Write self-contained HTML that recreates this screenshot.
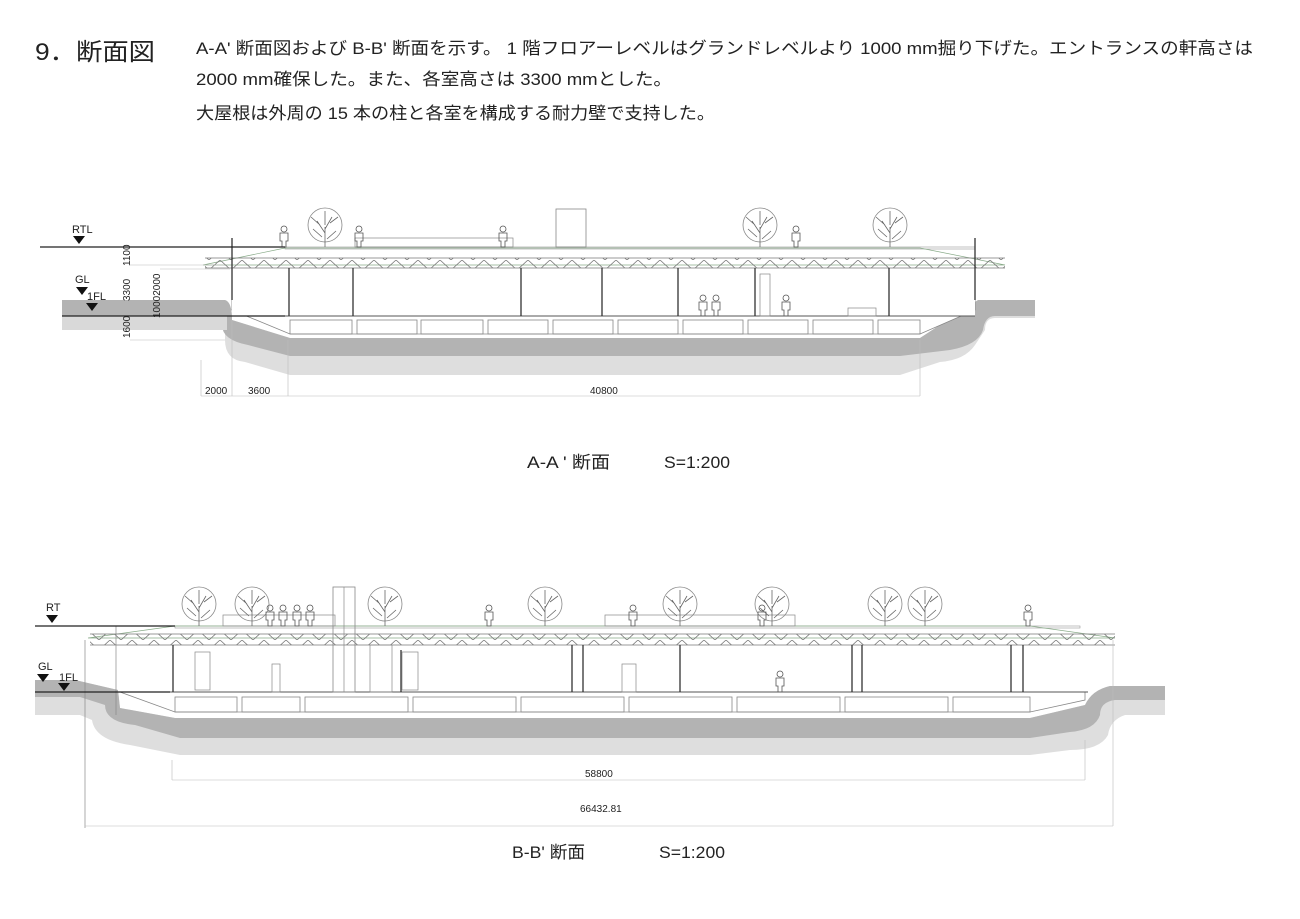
<!DOCTYPE html>
<html><head><meta charset="utf-8"><style>
body{margin:0;background:#fff;width:1300px;height:919px;overflow:hidden;font-family:"Liberation Sans","Noto Sans CJK JP",sans-serif}
svg{position:absolute;left:0;top:0}
</style></head><body>
<svg width="1300" height="919" viewBox="0 0 1300 919" xmlns="http://www.w3.org/2000/svg" font-family="Liberation Sans, Noto Sans CJK JP, sans-serif">
<defs>
<pattern id="zz" x="0" y="0" width="22" height="10" patternUnits="userSpaceOnUse">
<polyline points="0,0 11,10 22,0" fill="none" stroke="#777" stroke-width="0.8"/>
</pattern>
<g id="tree">
<circle cx="0" cy="-22" r="17" fill="none" stroke="#888" stroke-width="0.8"/>
<path d="M0,0 V-20 M0,-14 L-8,-26 M0,-18 L7,-30 M-3,-10 L-12,-18 M2,-8 L11,-16 M0,-22 L0,-36 M-5,-22 L-14,-30 M5,-24 L13,-30" stroke="#666" stroke-width="0.8" fill="none"/>
</g>
<g id="man">
<circle cx="0" cy="-18" r="3" fill="none" stroke="#555" stroke-width="0.8"/>
<path d="M-4,-14 h8 v8 h-2 v6 h-4 v-6 h-2 z" fill="none" stroke="#555" stroke-width="0.8"/>
</g>
</defs>

<text x="35" y="60" font-size="24" fill="#222" textLength="120" lengthAdjust="spacingAndGlyphs">9．断面図</text>
<g font-size="17" fill="#222">
<text x="196" y="54" textLength="1057" lengthAdjust="spacingAndGlyphs">A-A' 断面図および B-B' 断面を示す。 1 階フロアーレベルはグランドレベルより 1000 mm掘り下げた。エントランスの軒高さは</text>
<text x="196" y="85" textLength="476" lengthAdjust="spacingAndGlyphs">2000 mm確保した。また、各室高さは 3300 mmとした。</text>
<text x="196" y="119" textLength="519" lengthAdjust="spacingAndGlyphs">大屋根は外周の 15 本の柱と各室を構成する耐力壁で支持した。</text>
</g>

<!-- ===== Section A ===== -->
<g>
<path d="M62,300 H225 Q232,302 232,320 L290,338 H920 L982,300 H1035 V318 H995 Q985,318 985,330 L975,345 Q965,360 940,362 L900,375 H290 L245,362 Q225,360 225,340 V330 H62 Z" fill="#dedede"/>
<path d="M62,300 H225 Q232,302 232,320 L290,338 H920 L978,300 H1035 V316 H995 Q985,316 983,330 Q978,345 950,350 L900,356 H290 L248,345 Q222,340 222,325 V316 H62 Z" fill="#b3b3b3"/>
<rect x="62" y="316" width="165" height="14" fill="#d9d9d9"/>
<path d="M232,310 L290,334 H920 L975,310 V300 H232 Z" fill="#fff" stroke="#888" stroke-width="0.8"/>
<rect x="232" y="268" width="743" height="48" fill="#fff"/>
<line x1="232" y1="316" x2="975" y2="316" stroke="#555" stroke-width="1"/>
<g fill="none" stroke="#888" stroke-width="0.8">
<rect x="290" y="320" width="62" height="14"/><rect x="357" y="320" width="60" height="14"/><rect x="421" y="320" width="62" height="14"/><rect x="488" y="320" width="60" height="14"/><rect x="553" y="320" width="60" height="14"/><rect x="618" y="320" width="60" height="14"/><rect x="683" y="320" width="60" height="14"/><rect x="748" y="320" width="60" height="14"/><rect x="813" y="320" width="60" height="14"/><rect x="878" y="320" width="42" height="14"/>
</g>
<rect x="285" y="247" width="690" height="2" fill="none" stroke="#999" stroke-width="0.6"/>
<path d="M203,265 L285,248 H920 L1005,265 Z" fill="none" stroke="#8a8" stroke-width="0.7"/>
<rect x="205" y="258" width="800" height="10" fill="url(#zz)"/>
<line x1="205" y1="258" x2="1005" y2="258" stroke="#777" stroke-width="0.8"/>
<line x1="205" y1="268" x2="1005" y2="268" stroke="#777" stroke-width="0.8"/>
<rect x="355" y="238" width="158" height="9" fill="none" stroke="#888" stroke-width="0.7"/>
<rect x="556" y="209" width="30" height="38" fill="none" stroke="#888" stroke-width="0.8"/>
<g stroke="#333" stroke-width="1.3">
<line x1="232" y1="238" x2="232" y2="300"/><line x1="975" y1="238" x2="975" y2="300"/>
<line x1="289" y1="268" x2="289" y2="316"/><line x1="353" y1="268" x2="353" y2="316"/><line x1="521" y1="268" x2="521" y2="316"/><line x1="602" y1="268" x2="602" y2="316"/><line x1="678" y1="268" x2="678" y2="316"/><line x1="755" y1="268" x2="755" y2="316"/><line x1="889" y1="268" x2="889" y2="316"/>
</g>
<rect x="760" y="274" width="10" height="42" fill="none" stroke="#888" stroke-width="0.7"/>
<rect x="848" y="308" width="28" height="8" fill="none" stroke="#888" stroke-width="0.7"/>
<use href="#man" x="703" y="316"/><use href="#man" x="716" y="316"/><use href="#man" x="786" y="316"/><use href="#man" x="284" y="247"/><use href="#man" x="359" y="247"/><use href="#man" x="503" y="247"/><use href="#man" x="796" y="247"/>
<use href="#tree" x="325" y="247"/><use href="#tree" x="760" y="247"/><use href="#tree" x="890" y="247"/>
<line x1="40" y1="247" x2="285" y2="247" stroke="#222" stroke-width="1.2"/>
<line x1="62" y1="316" x2="285" y2="316" stroke="#222" stroke-width="1.2"/>
<text x="72" y="233" font-size="11" fill="#222">RTL</text>
<path d="M73,236 h12 l-6,8 z" fill="#111"/>
<text x="75" y="283" font-size="11" fill="#222">GL</text>
<path d="M76,287 h12 l-6,8 z" fill="#111"/>
<text x="87" y="300" font-size="11" fill="#222">1FL</text>
<path d="M86,303 h12 l-6,8 z" fill="#111"/>
<g font-size="10" fill="#222">
<text transform="translate(130,266) rotate(-90)">1100</text>
<text transform="translate(130,301) rotate(-90)">3300</text>
<text transform="translate(130,338) rotate(-90)">1600</text>
<text transform="translate(160,318) rotate(-90)">10002000</text>
</g>
<g stroke="#bbb" stroke-width="0.6" fill="none">
<line x1="130" y1="265" x2="225" y2="265"/><line x1="160" y1="269" x2="230" y2="269"/><line x1="130" y1="340" x2="225" y2="340"/>
<line x1="201" y1="360" x2="201" y2="396"/><line x1="232" y1="320" x2="232" y2="396"/><line x1="288" y1="340" x2="288" y2="396"/><line x1="920" y1="340" x2="920" y2="396"/>
<line x1="201" y1="396" x2="920" y2="396"/>
</g>
<g font-size="10" fill="#222"><text x="205" y="394">2000</text><text x="248" y="394">3600</text><text x="590" y="394">40800</text></g>
<text x="527" y="468" font-size="17" fill="#222" textLength="83" lengthAdjust="spacingAndGlyphs">A-A ' 断面</text>
<text x="664" y="468" font-size="17" fill="#222" textLength="66" lengthAdjust="spacingAndGlyphs">S=1:200</text>
</g>

<!-- ===== Section B ===== -->
<g>
<path d="M35,680 H75 L118,690 L120,708 L175,718 H1030 L1085,705 Q1092,690 1110,686 H1165 V715 H1125 Q1110,720 1108,735 Q1100,750 1070,750 L1030,755 H180 L130,745 Q95,740 92,720 L80,715 H35 Z" fill="#dedede"/>
<path d="M35,680 H75 L118,690 L120,708 L175,718 H1030 L1085,705 Q1092,690 1110,686 H1165 V700 H1115 Q1100,702 1100,715 Q1095,730 1070,732 L1030,738 H180 L135,725 Q105,722 105,705 L80,697 H35 Z" fill="#b3b3b3"/>
<path d="M120,692 L175,712 H1030 L1085,700 V692 Z" fill="#fff" stroke="#888" stroke-width="0.8"/>
<rect x="118" y="645" width="970" height="47" fill="#fff"/>
<line x1="118" y1="692" x2="1088" y2="692" stroke="#555" stroke-width="1"/>
<g fill="none" stroke="#888" stroke-width="0.8">
<rect x="175" y="697" width="62" height="15"/><rect x="242" y="697" width="58" height="15"/><rect x="305" y="697" width="103" height="15"/><rect x="413" y="697" width="103" height="15"/><rect x="521" y="697" width="103" height="15"/><rect x="629" y="697" width="103" height="15"/><rect x="737" y="697" width="103" height="15"/><rect x="845" y="697" width="103" height="15"/><rect x="953" y="697" width="77" height="15"/>
</g>
<rect x="175" y="626" width="905" height="2" fill="none" stroke="#999" stroke-width="0.6"/>
<path d="M88,638 L175,626 H1030 L1115,638 Z" fill="none" stroke="#8a8" stroke-width="0.7"/>
<rect x="90" y="634" width="1025" height="11" fill="url(#zz)"/>
<line x1="90" y1="634" x2="1115" y2="634" stroke="#777" stroke-width="0.8"/>
<line x1="90" y1="645" x2="1115" y2="645" stroke="#777" stroke-width="0.8"/>
<rect x="223" y="615" width="112" height="11" fill="none" stroke="#888" stroke-width="0.7"/>
<rect x="605" y="615" width="190" height="11" fill="none" stroke="#888" stroke-width="0.7"/>
<rect x="333" y="587" width="22" height="105" fill="none" stroke="#888" stroke-width="0.8"/>
<line x1="344" y1="587" x2="344" y2="692" stroke="#888" stroke-width="0.7"/>
<g stroke="#333" stroke-width="1.3">
<line x1="173" y1="645" x2="173" y2="692"/><line x1="401" y1="650" x2="401" y2="692"/><line x1="572" y1="645" x2="572" y2="692"/><line x1="583" y1="645" x2="583" y2="692"/><line x1="680" y1="645" x2="680" y2="692"/><line x1="852" y1="645" x2="852" y2="692"/><line x1="862" y1="645" x2="862" y2="692"/><line x1="1011" y1="645" x2="1011" y2="692"/><line x1="1023" y1="645" x2="1023" y2="692"/>
</g>
<g fill="none" stroke="#888" stroke-width="0.7">
<rect x="195" y="652" width="15" height="38"/><rect x="272" y="664" width="8" height="28"/><rect x="402" y="652" width="16" height="38"/><rect x="622" y="664" width="14" height="28"/><rect x="370" y="645" width="22" height="47"/>
<line x1="116" y1="626" x2="116" y2="715"/><line x1="85" y1="640" x2="85" y2="828"/>
</g>
<use href="#man" x="780" y="692"/><use href="#man" x="489" y="626"/><use href="#man" x="633" y="626"/><use href="#man" x="1028" y="626"/><use href="#man" x="762" y="626"/>
<use href="#man" x="270" y="626"/><use href="#man" x="283" y="626"/><use href="#man" x="297" y="626"/><use href="#man" x="310" y="626"/>
<use href="#tree" x="199" y="626"/><use href="#tree" x="252" y="626"/><use href="#tree" x="385" y="626"/><use href="#tree" x="545" y="626"/><use href="#tree" x="680" y="626"/><use href="#tree" x="772" y="626"/><use href="#tree" x="885" y="626"/><use href="#tree" x="925" y="626"/>
<line x1="35" y1="626" x2="175" y2="626" stroke="#222" stroke-width="1.2"/>
<line x1="35" y1="692" x2="170" y2="692" stroke="#222" stroke-width="1.2"/>
<text x="46" y="611" font-size="11" fill="#222">RT</text>
<path d="M46,615 h12 l-6,8 z" fill="#111"/>
<text x="38" y="670" font-size="11" fill="#222">GL</text>
<path d="M37,674 h12 l-6,8 z" fill="#111"/>
<text x="59" y="681" font-size="11" fill="#222">1FL</text>
<path d="M58,683 h12 l-6,8 z" fill="#111"/>
<g stroke="#bbb" stroke-width="0.6">
<line x1="172" y1="760" x2="172" y2="780"/><line x1="1085" y1="740" x2="1085" y2="780"/><line x1="172" y1="780" x2="1085" y2="780"/>
<line x1="1113" y1="640" x2="1113" y2="826"/><line x1="85" y1="826" x2="1113" y2="826"/>
</g>
<text x="585" y="777" font-size="10" fill="#222">58800</text>
<text x="580" y="812" font-size="10" fill="#222">66432.81</text>
<text x="512" y="858" font-size="17" fill="#222" textLength="73" lengthAdjust="spacingAndGlyphs">B-B' 断面</text>
<text x="659" y="858" font-size="17" fill="#222" textLength="66" lengthAdjust="spacingAndGlyphs">S=1:200</text>
</g>
</svg>
</body></html>
